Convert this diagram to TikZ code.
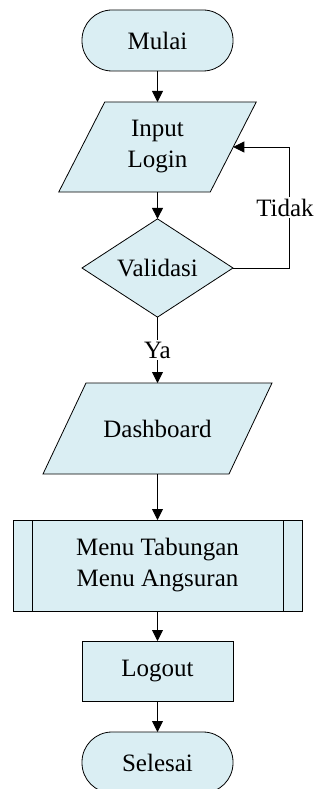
\documentclass[tikz,border=0pt]{standalone}
\usepackage{fontspec}
\setmainfont{Liberation Serif}
\usetikzlibrary{arrows.meta,shapes.geometric,calc,backgrounds}
\definecolor{boxfill}{HTML}{DAEEF3}
\begin{document}
\begin{tikzpicture}[x=1pt,y=-1pt,
  font=\fontsize{25}{31}\selectfont,
  base/.style={draw=black,fill=boxfill,line width=0.8pt,inner sep=0pt,outer sep=0pt,align=center},
  terminal/.style={base,rectangle,rounded corners=30pt,minimum width=151pt,minimum height=61pt},
  process/.style={base,rectangle,minimum width=151pt,minimum height=60pt},
  subproc/.style={base,rectangle,minimum width=289pt,minimum height=91pt},
  decision/.style={base,diamond,minimum width=151pt,minimum height=90pt},
  iobox/.style={rectangle,inner sep=0pt,outer sep=0pt,align=center},
  ioshape/.style={draw=black,fill=boxfill,line width=0.8pt},
  flow/.style={line width=0.9pt,-{Triangle[length=11pt,width=11pt]}},
  lbl/.style={fill=white,inner sep=2pt}
]
\useasboundingbox (0,0) rectangle (320,789);

\node[terminal] (mulai) at (157.5,40.5) {Mulai};
\node[iobox,minimum width=151.5pt,minimum height=90pt] (input) at (157.5,147) {Input\\Login};
\node[decision] (val) at (157.5,268) {Validasi};
\node[iobox,minimum width=186pt,minimum height=91pt] (dash) at (157.5,428.5) {Dashboard};
\node[subproc] (menu) at (157.5,565.5) {Menu Tabungan\\Menu Angsuran};
\node[process] (logout) at (157.5,671) {Logout};
\node[terminal] (selesai) at (157.5,762.5) {Selesai};

\begin{scope}[on background layer]
  \draw[ioshape] ($(input.north west)+(23,0)$) -- ($(input.north east)+(23,0)$)
    -- ($(input.south east)+(-23,0)$) -- ($(input.south west)+(-23,0)$) -- cycle;
  \draw[ioshape] ($(dash.north west)+(21.5,0)$) -- ($(dash.north east)+(21.5,0)$)
    -- ($(dash.south east)+(-21.5,0)$) -- ($(dash.south west)+(-21.5,0)$) -- cycle;
\end{scope}

\draw[line width=0.8pt] ($(menu.north west)+(19,0)$) -- ($(menu.south west)+(19,0)$);
\draw[line width=0.8pt] ($(menu.north east)+(-19,0)$) -- ($(menu.south east)+(-19,0)$);

\draw[flow] (mulai) -- (input);
\draw[flow] (input) -- (val);
\draw[flow] (val) -- node[lbl] {Ya} (dash);
\draw[flow] (dash) -- (menu);
\draw[flow] (menu) -- (logout);
\draw[flow] (logout) -- (selesai);
\draw[flow] (val.east) -- ++(56,0) |- node[lbl,pos=0.25,xshift=-4pt] {Tidak} (input.east);
\end{tikzpicture}
\end{document}
